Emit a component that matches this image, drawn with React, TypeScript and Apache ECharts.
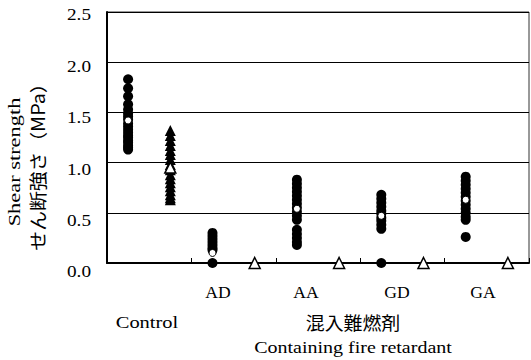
import React, { useEffect, useRef } from 'react';
import * as echarts from 'echarts';

// Column positions on the x value axis: each group spans 2 units (circle column, triangle column)
const groupNames = ['Control', 'AD', 'AA', 'GD', 'GA'];
const treatmentLabels = ['AD', 'AA', 'GD', 'GA'];
const yTickLabels = ['0.0', '0.5', '1.0', '1.5', '2.0', '2.5'];

// Individual measurements (MPa) — circles (first column of each group)
const controlCircles = [1.83, 1.74, 1.66, 1.58, 1.53, 1.49, 1.46, 1.43, 1.39, 1.36, 1.33, 1.30, 1.27, 1.25, 1.22, 1.20, 1.17, 1.15, 1.13];
const adCircles = [0.30, 0.27, 0.24, 0.21, 0.18, 0.15, 0.13, 0.0];
const aaCircles = [0.83, 0.79, 0.75, 0.71, 0.67, 0.63, 0.59, 0.55, 0.51, 0.47, 0.43, 0.33, 0.29, 0.25, 0.21, 0.18];
const gdCircles = [0.68, 0.64, 0.60, 0.56, 0.52, 0.49, 0.45, 0.42, 0.38, 0.34, 0.0];
const gaCircles = [0.86, 0.82, 0.78, 0.74, 0.70, 0.66, 0.62, 0.58, 0.54, 0.50, 0.46, 0.43, 0.26];
// Triangles (second column of each group)
const controlTriangles = [1.32, 1.27, 1.22, 1.17, 1.12, 1.08, 1.03, 0.98, 0.93, 0.88, 0.84, 0.80, 0.76, 0.72, 0.68, 0.65, 0.63];

// Means
const circleMeans = [1.42, 0.10, 0.54, 0.47, 0.63];
const triangleMeans = [0.95, 0.0, 0.0, 0.0, 0.0];

const circleSets = [controlCircles, adCircles, aaCircles, gdCircles, gaCircles];
const triangleSets = [controlTriangles, [], [], [], []];

const SERIF = 'Liberation Serif';
const CJK = 'Noto Sans CJK JP';

function txt(text: string, x: number, y: number, opts: any = {}) {
  return {
    type: 'text',
    x,
    y,
    rotation: opts.rotation || 0,
    scaleX: opts.scaleX || 1,
    style: {
      text,
      fontFamily: opts.family || SERIF,
      fontSize: opts.size || 16,
      fill: '#000',
      textAlign: opts.align || 'center',
      textVerticalAlign: 'middle',
    },
  };
}

export default function App() {
  const ref = useRef<HTMLDivElement>(null);
  useEffect(() => {
    if (!ref.current) return;
    const chart = echarts.init(ref.current, undefined, { renderer: 'svg' });

    const gridTop = 12;
    const gridBottomPx = 263;

    const circleData: number[][] = [];
    circleSets.forEach((arr, g) => arr.forEach((v) => circleData.push([g * 2 + 0.5, v])));
    const triData: number[][] = [];
    triangleSets.forEach((arr, g) => arr.forEach((v) => triData.push([g * 2 + 1.5, v])));
    const circleMeanData = circleMeans.map((v, g) => [g * 2 + 0.5, v]);
    const triMeanData = triangleMeans.map((v, g) => [g * 2 + 1.5, v]);

    const labelX = [218, 306, 397, 483];
    const graphics: any[] = [];
    yTickLabels.forEach((t, i) => {
      graphics.push(txt(t, 91, 272 - i * 51.4, { align: 'right', scaleX: 1.2 }));
    });
    treatmentLabels.forEach((t, i) => {
      graphics.push(txt(t, labelX[i], 293, { scaleX: 1.1 }));
    });
    graphics.push(
      txt(groupNames[0], 147, 323, { scaleX: 1.28 }),
      txt('混入難燃剤', 353, 322, { family: CJK, size: 18, scaleX: 1.05 }),
      txt('Containing fire retardant', 353, 348, { scaleX: 1.25 }),
      txt('Shear strength', 15, 162, { rotation: Math.PI / 2, scaleX: 1.4 }),
      txt('せん断強さ（MPa）', 37, 162, { rotation: Math.PI / 2, family: CJK, size: 18, scaleX: 1.1 })
    );

    chart.setOption({
      animation: false,
      backgroundColor: '#fff',
      grid: { left: 107, right: 2, top: gridTop, bottom: 360 - gridBottomPx, show: true, borderColor: '#333', borderWidth: 1 },
      xAxis: {
        type: 'value', min: 0, max: 10, interval: 2,
        axisLine: { show: true, onZero: false, lineStyle: { color: '#000', width: 2 } },
        axisTick: { show: true, inside: true, length: 5, lineStyle: { color: '#000', width: 1 } },
        axisLabel: { show: false },
        splitLine: { show: false },
      },
      yAxis: {
        type: 'value', min: 0, max: 2.5, interval: 0.5,
        axisLine: { show: true, lineStyle: { color: '#000', width: 2 } },
        axisTick: { show: true, inside: true, length: 5, lineStyle: { color: '#000' } },
        axisLabel: { show: false },
        splitLine: { show: true, lineStyle: { color: '#000', width: 1 } },
      },
      graphic: graphics,
      series: [
        { type: 'scatter', clip: false, symbol: 'circle', symbolSize: 10, itemStyle: { color: '#000', opacity: 1 }, data: circleData, z: 3 },
        { type: 'scatter', clip: false, symbol: 'triangle', symbolSize: 11, itemStyle: { color: '#000', opacity: 1 }, data: triData, z: 3 },
        { type: 'scatter', clip: false, symbol: 'circle', symbolSize: 7, itemStyle: { color: '#fff', borderColor: '#000', borderWidth: 1, opacity: 1 }, data: circleMeanData, z: 4 },
        { type: 'scatter', clip: false, symbol: 'triangle', symbolSize: 11, itemStyle: { color: '#fff', borderColor: '#000', borderWidth: 1.5, opacity: 1 }, data: triMeanData, z: 4 },
      ],
    });
    return () => chart.dispose();
  }, []);
  return <div ref={ref} style={{ position: 'fixed', left: 0, top: 0, width: 531, height: 360, background: '#fff' }} />;
}
